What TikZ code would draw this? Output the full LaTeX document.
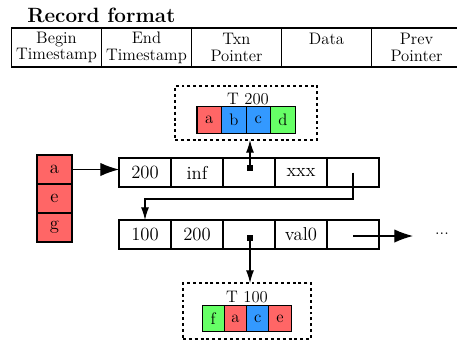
\documentclass[tikz,border=0pt]{standalone}
\usetikzlibrary{arrows.meta,positioning}
\definecolor{keyred}{HTML}{FF6666}
\definecolor{keyblue}{HTML}{3399FF}
\definecolor{keygreen}{HTML}{66FF66}
\tikzset{
  fieldbox/.style={draw, line width=0.9pt, outer sep=0pt, inner sep=0pt,
    minimum width=67.5pt, minimum height=29.25pt, align=center,
    font=\fontsize{12.5}{12.5}\selectfont},
  rowcell/.style={draw, line width=0.9pt, outer sep=0pt, inner sep=0pt,
    minimum width=39pt, minimum height=21.75pt,
    font=\fontsize{14}{14}\selectfont},
  keycell/.style={draw, line width=0.9pt, outer sep=0pt, inner sep=0pt,
    fill=keyred, minimum width=26.25pt, minimum height=21.75pt,
    font=\fontsize{14}{14}\selectfont},
  txncell/.style={draw, line width=0.8pt, outer sep=0pt, inner sep=0pt,
    minimum width=#1, minimum height=19.75pt,
    font=\fontsize{12.5}{12}\selectfont},
  txnbox/.style={draw, dash pattern=on 2.2pt off 2.2pt, line width=0.8pt,
    outer sep=0pt, inner sep=0pt},
  ptrdot/.style={fill, minimum size=4.5pt, inner sep=0pt, outer sep=0pt},
  bigarrow/.style={line width=0.9pt, -{Latex[length=14pt, width=10pt]}},
  smallarrow/.style={line width=0.9pt, -{Latex[length=9.5pt, width=6pt]}},
}
\begin{document}
\begin{tikzpicture}[x=0.75pt, y=-0.75pt]
    \useasboundingbox (0,0) rectangle (457,343);

    % Title and record layout
    \node[anchor=west, inner sep=0pt, font=\fontsize{15.5}{16}\bfseries] (title) at (27,15) {Record format};
    \node[fieldbox] (fbegin) at (56.5,47.5) {Begin\\Timestamp};
    \node[fieldbox, right=0pt of fbegin] (fend) {End\\Timestamp};
    \node[fieldbox, right=0pt of fend] (ftxn) {Txn\\Pointer};
    \node[fieldbox, right=0pt of ftxn] (fdata) {Data\\\mbox{}};
    \node[fieldbox, right=0pt of fdata] (fprev) {Prev\\Pointer};

    % Index keys
    \node[keycell] (ka) at (54.5,169.5) {a};
    \node[keycell, below=0pt of ka] (ke) {e};
    \node[keycell, below=0pt of ke] (kg) {g};

    % Newest version
    \node[rowcell] (r1a) at (145,172.5) {200};
    \node[rowcell, right=0pt of r1a] (r1b) {inf};
    \node[rowcell, right=0pt of r1b] (r1c) {};
    \node[rowcell, right=0pt of r1c] (r1d) {xxx};
    \node[rowcell, right=0pt of r1d] (r1e) {};

    % Older version
    \node[rowcell] (r2a) at (145,234.5) {100};
    \node[rowcell, right=0pt of r2a] (r2b) {200};
    \node[rowcell, right=0pt of r2b] (r2c) {};
    \node[rowcell, right=0pt of r2c] (r2d) {val0};
    \node[rowcell, right=0pt of r2d] (r2e) {};

    % Transaction T 200
    \node[txnbox, minimum width=106.5pt, minimum height=40.5pt] (t2box) at (246,113) {};
    \node[font=\fontsize{12.5}{12}\selectfont, inner sep=0pt] (t2label) at (248,99) {T 200};
    \node[txncell=18.4pt, fill=keyred] (t2a) at (209.25,120) {a};
    \node[txncell=18.4pt, fill=keyblue, right=0pt of t2a] (t2b) {b};
    \node[txncell=18.4pt, fill=keyblue, right=0pt of t2b] (t2c) {c};
    \node[txncell=18.4pt, fill=keygreen, right=0pt of t2c] (t2d) {d};

    % Transaction T 100
    \node[txnbox, minimum width=96pt, minimum height=42pt] (t1box) at (247,311) {};
    \node[font=\fontsize{12.5}{12}\selectfont, inner sep=0pt] (t1label) at (247,297) {T 100};
    \node[txncell=16.7pt, fill=keygreen] (t1f) at (213.2,318.5) {f};
    \node[txncell=16.7pt, fill=keyred, right=0pt of t1f] (t1a) {a};
    \node[txncell=16.7pt, fill=keyblue, right=0pt of t1a] (t1c) {c};
    \node[txncell=16.7pt, fill=keyred, right=0pt of t1c] (t1e) {e};

    % Txn pointers
    \node[ptrdot] (p1) at (250,168) {};
    \node[ptrdot] (p2) at (250,238) {};

    % Connectors
    \draw[bigarrow] (ka.east) -- (ka.east -| r1a.west);
    \draw[smallarrow] (p1) -- (p1 |- t2box.south);
    \draw[smallarrow] (p2) -- (p2 |- t1box.north);
    \coordinate (turn) at (0,199);
    \draw[smallarrow] (r1e.center) -- (r1e.center |- turn) -| (r2a.north);
    \coordinate (r2end) at (413,236);
    \draw[bigarrow] (r2e.center |- r2end) -- (r2end);
    \node[font=\fontsize{12.5}{12}\selectfont, inner sep=0pt] (more) at (442,234) {...};
\end{tikzpicture}
\end{document}
